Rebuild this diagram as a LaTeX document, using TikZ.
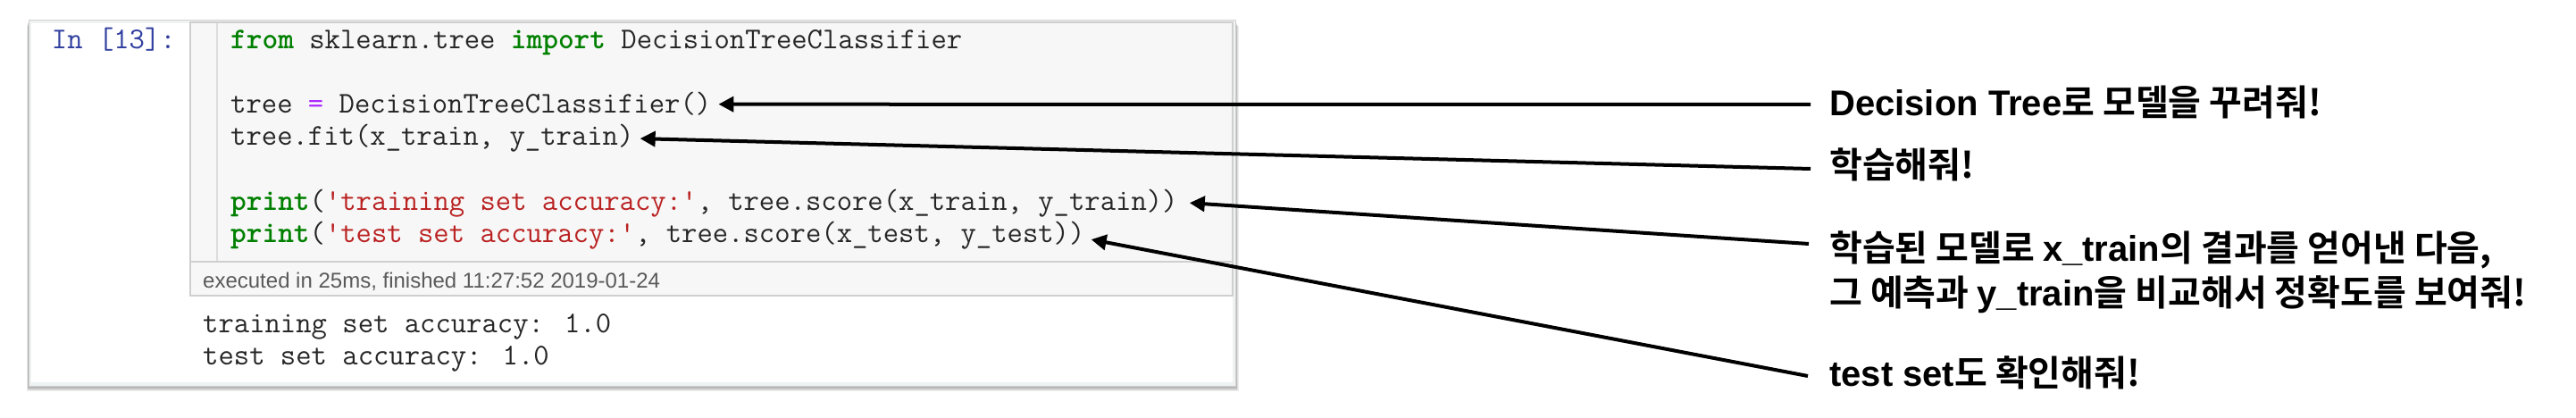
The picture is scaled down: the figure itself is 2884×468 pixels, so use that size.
\documentclass[tikz,border=0pt]{standalone}
\usepackage{fontspec}
\newfontfamily\latfont{Liberation Sans}
\newfontfamily\korfont{Noto Sans CJK KR}[BoldFont={Noto Sans CJK KR Bold}]
\usetikzlibrary{arrows.meta}
\definecolor{kwgreen}{HTML}{008000}
\definecolor{strred}{HTML}{BA2121}
\definecolor{oppurple}{HTML}{AA22FF}
\definecolor{promptblue}{HTML}{303F9F}
\definecolor{cellbg}{HTML}{F7F7F7}
\definecolor{cellborder}{HTML}{CFCFCF}
\definecolor{cellrim}{HTML}{EEF2F2}
\definecolor{gutter}{HTML}{DDDDDD}
\definecolor{exgray}{HTML}{5A5A5A}
\newcommand\codekw[1]{\textcolor{kwgreen}{\bfseries #1}}
\newcommand\codestr[1]{\textcolor{strred}{#1}}
\newcommand\codeop[1]{\textcolor{oppurple}{#1}}
\newcommand\codefont{\ttfamily\fontsize{33.7}{36}\selectfont\addfontfeatures{FakeBold=0.5}}
\tikzset{
  code/.style={font=\codefont, inner sep=0pt, anchor=base west, text=black!85},
  lab/.style={font=\fontsize{40}{50}\selectfont\bfseries, inner sep=0pt, anchor=base west},
  arr/.style={line width=4pt, -{Triangle[length=17pt,width=17pt]}},
  cellframe/.style={draw=cellborder, line width=1.5pt}
}
\begin{document}
\begin{tikzpicture}[x=1pt,y=-1pt]
\useasboundingbox (0,0) rectangle (2884,468);
% shadow
\foreach \i in {1,...,6}{
  \fill[black, opacity=0.07] (32-0.3*\i,23+1.0*\i) rectangle (1383+0.6*\i,432+1.0*\i);
}
% cell
\fill[cellrim] (32,23) rectangle (1383,432);
\draw[draw=black!18, line width=1pt] (32,23) rectangle (1383,432);
\fill[white] (35,26) rectangle (1380,428);
\fill[cellbg] (213,25) rectangle (1380,331);
\draw[cellframe] (213,25) rectangle (1380,331);
\draw[cellborder, line width=1.5pt] (213,293) -- (1380,293);
\draw[gutter, line width=1.5pt] (243,26) -- (243,292);
% prompt
\node[code, anchor=base east, text=promptblue] (prompt) at (197,55) {In [13]:};
% code lines
\node[code] (c1) at (258,55) {\codekw{from} sklearn.tree \codekw{import} DecisionTreeClassifier};
\node[code] (c3) at (258,127) {tree \codeop{=} DecisionTreeClassifier()};
\node[code] (c4) at (258,163) {tree.fit(x\_train, y\_train)};
\node[code] (c6) at (258,235) {\codekw{print}(\codestr{'training set accuracy:'}, tree.score(x\_train, y\_train))};
\node[code] (c7) at (258,271) {\codekw{print}(\codestr{'test set accuracy:'}, tree.score(x\_test, y\_test))};
% executed
\node[inner sep=0pt, anchor=base west, font=\latfont\fontsize{24}{28}\selectfont, text=exgray] (exe) at (227,322) {executed in 25ms, finished 11:27:52 2019-01-24};
% output
\node[code] (o1) at (227,372) {training set accuracy: 1.0};
\node[code] (o2) at (227,408) {test set accuracy: 1.0};
% labels
\node[lab] (l1) at (2048,130) {{\latfont Decision Tree}{\korfont 로 모델을 꾸려줘!}};
\node[lab] (l2) at (2048,199) {{\korfont 학습해줘!}};
\node[lab] (l3a) at (2048,292) {{\korfont 학습된 모델로 }{\latfont x\_train}{\korfont 의 결과를 얻어낸 다음,}};
\node[lab] (l3b) at (2048,342) {{\korfont 그 예측과 }{\latfont y\_train}{\korfont 을 비교해서 정확도를 보여줘!}};
\node[lab] (l4) at (2048,432) {{\latfont test set}{\korfont 도 확인해줘!}};
% connector ends
\coordinate (e1) at (2027,117);
\coordinate (e2) at (2027,189);
\coordinate (e3) at (2025,273);
\coordinate (e4) at (2024,421);
\draw[arr] (e1) -- ([xshift=8pt]c3.east);
\draw[arr] (e2) -- ([xshift=7pt]c4.east);
\draw[arr] (e3) -- ([xshift=13pt]c6.east);
\draw[arr] (e4) -- ([xshift=7pt,yshift=-5pt]c7.east);
\end{tikzpicture}
\end{document}
